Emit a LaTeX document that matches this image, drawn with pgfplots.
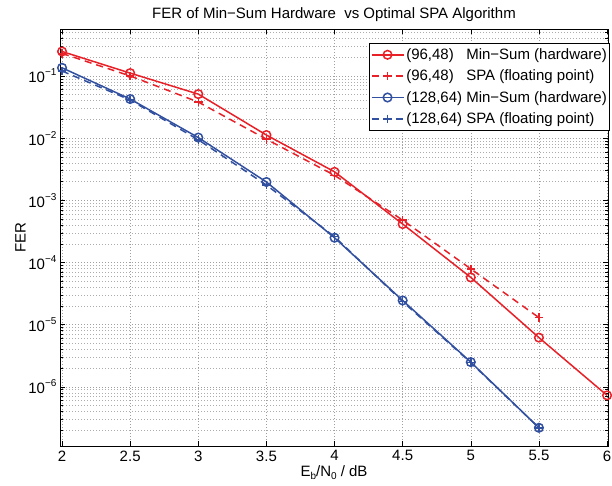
\documentclass[border=0pt]{standalone}
\usepackage{fontspec}
\setmainfont{Liberation Sans}
\usepackage{pgfplots}
\pgfplotsset{compat=1.18}
\definecolor{myred}{RGB}{232,32,40}
\definecolor{myblue}{RGB}{50,80,160}
\newcommand{\tenexp}[1]{10\raisebox{7pt}{\fontsize{10}{12}\selectfont −#1}}
\begin{document}
\begin{tikzpicture}
\path[use as bounding box] (-60pt,-39pt) rectangle (552pt,446pt);
\begin{axis}[
  scale only axis,
  width=548pt, height=417pt,
  ymode=log,
  xmin=1.985, xmax=6.007,
  ymin=1.12e-7, ymax=0.568,
  clip=false,
  xtick={2,2.5,3,3.5,4,4.5,5,5.5,6},
  xticklabels={2,2.5,3,3.5,4,4.5,5,5.5,6},
  ytick={1e-6,1e-5,1e-4,1e-3,1e-2,1e-1},
  yticklabels={\tenexp{6},\tenexp{5},\tenexp{4},\tenexp{3},\tenexp{2},\tenexp{1}},
  minor ytick={2e-7,3e-7,4e-7,5e-7,6e-7,7e-7,8e-7,9e-7,
               2e-6,3e-6,4e-6,5e-6,6e-6,7e-6,8e-6,9e-6,
               2e-5,3e-5,4e-5,5e-5,6e-5,7e-5,8e-5,9e-5,
               2e-4,3e-4,4e-4,5e-4,6e-4,7e-4,8e-4,9e-4,
               2e-3,3e-3,4e-3,5e-3,6e-3,7e-3,8e-3,9e-3,
               2e-2,3e-2,4e-2,5e-2,6e-2,7e-2,8e-2,9e-2,
               2e-1,3e-1,4e-1,5e-1},
  tick pos=both,
  tick align=inside,
  major tick length=5pt,
  minor tick length=3pt,
  every tick/.style={black, line width=0.5pt},
  axis line style={black, line width=0.9pt},
  grid=both,
  major grid style={gray!75, line width=0.5pt, dash pattern=on 1pt off 2pt},
  minor grid style={gray!65, line width=0.5pt, dash pattern=on 1pt off 2pt},
  ticklabel style={font=\fontsize{15}{18}\selectfont},
  xticklabel style={yshift=-1pt},
  yticklabel style={xshift=0pt},
  title={FER of Min−Sum Hardware\ \ vs Optimal SPA Algorithm},
  title style={font=\fontsize{15}{18}\selectfont, yshift=-2pt},
  xlabel={E\raisebox{-3pt}{\fontsize{10}{12}\selectfont b}/N\raisebox{-3pt}{\fontsize{10}{12}\selectfont 0} / dB},
  xlabel style={font=\fontsize{15}{18}\selectfont, yshift=2pt},
  ylabel={FER},
  ylabel style={font=\fontsize{15}{18}\selectfont, yshift=-4pt},
  legend style={at={(rel axis cs:1.004,0.966)}, anchor=north east,
    font=\fontsize{15}{18}\selectfont, draw=black, line width=0.8pt,
    inner xsep=1pt, inner ysep=3pt, row sep=5pt, cells={anchor=west}},
  legend image code/.code={\draw[mark repeat=2,mark phase=2,#1] plot coordinates {(0pt,0pt) (16pt,0pt) (32pt,0pt)};},
]
\addplot[myred, line width=1.5pt, mark=o, mark size=4.3pt] coordinates {
(2,0.247) (2.5,0.111) (3,0.051) (3.5,0.0112) (4,0.00287) (4.5,4.15e-4) (5,5.75e-5) (5.5,6.2e-6) (6,7.3e-7)};
\addlegendentry{(96,48)\hphantom{1} Min−Sum (hardware)}
\addplot[myred, line width=1.5pt, dash pattern=on 7pt off 5pt, mark=+, mark size=4.3pt, mark options={solid}] coordinates {
(2,0.23) (2.5,0.1) (3,0.038) (3.5,0.0096) (4,0.00252) (4.5,4.8e-4) (5,7.9e-5) (5.5,1.3e-5)};
\addlegendentry{(96,48)\hphantom{1} SPA (floating point)}
\addplot[myblue, line width=1.5pt, mark=o, mark size=4.3pt] coordinates {
(2,0.135) (2.5,0.0425) (3,0.0102) (3.5,0.00197) (4,2.5e-4) (4.5,2.45e-5) (5,2.5e-6) (5.5,2.2e-7)};
\addlegendentry{(128,64) Min−Sum (hardware)}
\addplot[myblue, line width=1.5pt, dash pattern=on 7pt off 5pt, mark=+, mark size=4.3pt, mark options={solid}] coordinates {
(2,0.12) (2.5,0.041) (3,0.0094) (3.5,0.00176) (4,2.6e-4) (4.5,2.35e-5) (5,2.45e-6) (5.5,2.2e-7)};
\addlegendentry{(128,64) SPA (floating point)}
\end{axis}
\end{tikzpicture}
\end{document}
